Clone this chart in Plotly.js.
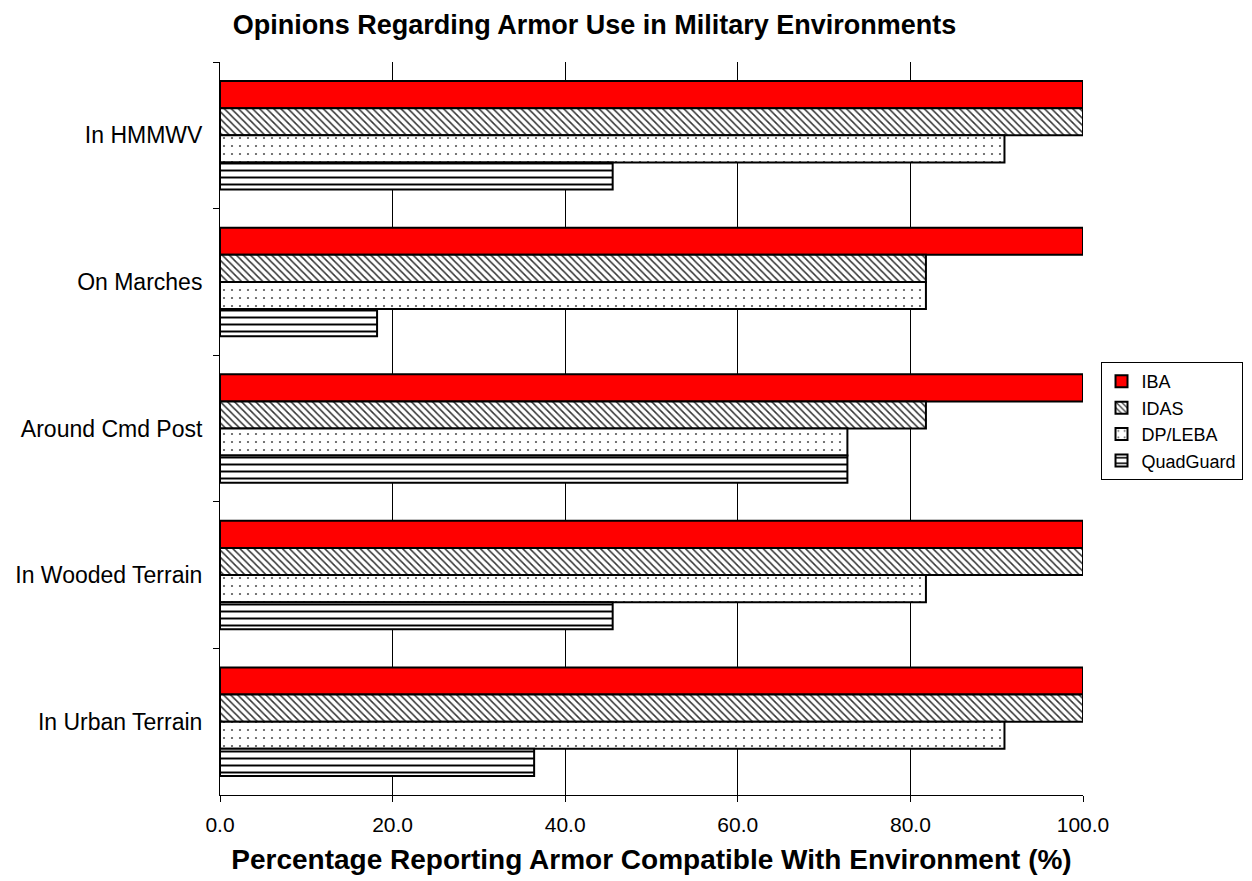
<!DOCTYPE html>
<html><head><meta charset="utf-8">
<script src="https://cdn.plot.ly/plotly-3.0.1.min.js"></script>
<style>body{margin:0;background:#fff}#c{width:1252px;height:881px}</style>
</head><body><div id="c"></div>
<script>
const categories = ["In HMMWV", "On Marches", "Around Cmd Post", "In Wooded Terrain", "In Urban Terrain"];
const seriesNames = ["IBA", "IDAS", "DP/LEBA", "QuadGuard"];
const IBA = [100, 100, 100, 100, 100];
const IDAS = [100, 81.8, 81.8, 100, 100];
const DPLEBA = [90.9, 81.8, 72.7, 81.8, 90.9];
const QuadGuard = [45.5, 18.2, 72.7, 45.5, 36.4];
const xTicks = [0, 20, 40, 60, 80, 100];
const xTickLabels = ["0.0", "20.0", "40.0", "60.0", "80.0", "100.0"];

const values = [IBA, IDAS, DPLEBA, QuadGuard];
const patterns = [
  {shape: ""},
  {shape: "\\", fgcolor: "#333", bgcolor: "#fff", size: 5, solidity: 0.3, fillmode: "replace"},
  {shape: ".", fgcolor: "#555", bgcolor: "#fff", size: 8, solidity: 0.06, fillmode: "replace"},
  {shape: "-", fgcolor: "#000", bgcolor: "#fff", size: 7, solidity: 0.28, fillmode: "replace"}
];
const colors = ["#ff0000", "#fff", "#fff", "#fff"];
const traces = seriesNames.map((n, i) => ({
  type: "bar", orientation: "h", name: n,
  y: categories, x: values[i],
  marker: {color: colors[i], line: {color: "#000", width: 2}, pattern: patterns[i]},
  hoverinfo: "x+y+name"
}));

const layout = {
  width: 1252, height: 881,
  margin: {l: 220, r: 169, t: 62, b: 86, autoexpand: false},
  paper_bgcolor: "#fff", plot_bgcolor: "#fff",
  font: {family: "Arial, Liberation Sans, sans-serif", size: 21, color: "#000"},
  title: {text: "<b>Opinions Regarding Armor Use in Military Environments</b>",
          font: {size: 27}, x: 0.434, xref: "paper", y: 0.972, yanchor: "middle"},
  barmode: "group", bargap: 0.26, bargroupgap: 0,
  xaxis: {range: [0, 100], tickvals: xTicks, ticktext: xTickLabels,
          showgrid: true, gridcolor: "#000", gridwidth: 1,
          showline: true, linecolor: "#000", linewidth: 1,
          ticks: "outside", ticklen: 6, tickcolor: "#000", zeroline: false,
          ticklabelstandoff: 5,
          title: {text: "<b>Percentage Reporting Armor Compatible With Environment (%)</b>", font: {size: 28}, standoff: 14}},
  yaxis: {autorange: "reversed", type: "category", tickson: "boundaries",
          ticks: "outside", ticklen: 6, tickcolor: "#000",
          showline: true, linecolor: "#000", linewidth: 1, showgrid: false,
          tickfont: {size: 23}, ticklabelstandoff: 12},
  legend: {xref: "container", yref: "container", x: 0.879, xanchor: "left", y: 0.522, yanchor: "middle",
           bordercolor: "#000", borderwidth: 1, font: {size: 18},
           tracegroupgap: 0, itemwidth: 30},
  showlegend: true
};
Plotly.newPlot("c", traces, layout, {displayModeBar: false});
</script></body></html>
